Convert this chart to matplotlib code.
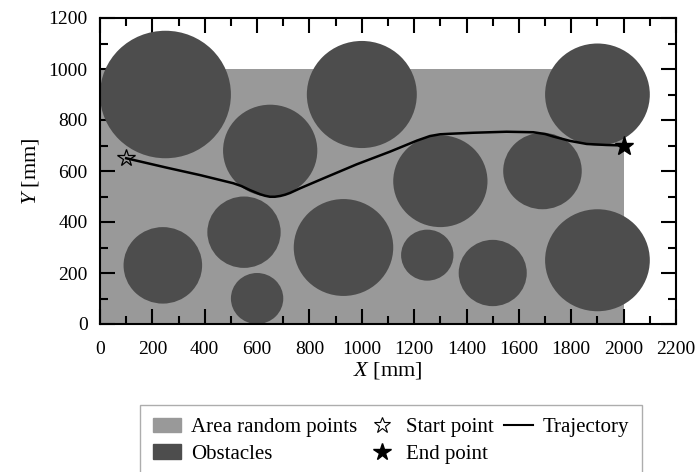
import matplotlib.pyplot as plt
from matplotlib.patches import Circle, Rectangle, Patch
from matplotlib.lines import Line2D

plt.rcParams['font.family'] = ['Liberation Serif', 'DejaVu Serif']
plt.rcParams['mathtext.fontset'] = 'custom'
plt.rcParams['mathtext.it'] = 'Liberation Serif:italic'
plt.rcParams['mathtext.rm'] = 'Liberation Serif'

# area where random points are sampled (x0, y0, width, height) in mm
area = (0, 0, 2000, 1000)

# obstacles: centers and radii in mm
obs_x = [250, 650, 1000, 1900, 1300, 1690, 240, 550, 600, 930, 1250, 1500, 1900]
obs_y = [900, 680, 900, 900, 560, 600, 230, 360, 100, 300, 270, 200, 250]
obs_r = [250, 180, 210, 200, 180, 150, 150, 140, 100, 190, 100, 130, 200]

# trajectory
traj_x = [100, 255, 382, 509, 540, 573, 611, 630, 649, 668, 688, 707, 726, 764, 853, 980,
          1108, 1210, 1260, 1299, 1337, 1426, 1553, 1655, 1700, 1732, 1795, 1859, 1935, 2000]
traj_y = [650, 613, 584, 552, 541, 525, 509, 503, 499, 499, 502, 507, 514, 532, 571, 626,
          676, 719, 737, 744, 746, 750, 754, 752, 745, 735, 718, 706, 702, 700]

start = (100, 650)
end = (2000, 700)

c_area = '#999999'
c_obs = '#4d4d4d'

fig = plt.figure(figsize=(6.99, 4.72), dpi=100)
ax = fig.add_axes([100 / 699, 1 - 324 / 472, 576 / 699, 306 / 472])

ax.add_patch(Rectangle((area[0], area[1]), area[2], area[3], color=c_area, lw=0, zorder=1))
for x, y, r in zip(obs_x, obs_y, obs_r):
    ax.add_patch(Circle((x, y), r, color=c_obs, lw=0, zorder=2))

ax.plot(traj_x, traj_y, color='black', lw=1.8, zorder=3, solid_joinstyle='round')
ax.plot(*start, marker='*', ms=13, mfc='none', mec='black', mew=0.9, ls='none', zorder=4)
ax.plot(*end, marker='*', ms=14, color='black', ls='none', zorder=4)

ax.set_xlim(0, 2200)
ax.set_ylim(0, 1200)
ax.set_xticks(range(0, 2201, 200))
ax.set_yticks(range(0, 1201, 200))
ax.set_xticks(range(0, 2201, 100), minor=True)
ax.set_yticks(range(0, 1201, 100), minor=True)
ax.tick_params(which='both', direction='in', top=True, right=True, width=1.5, labelsize=14)
ax.tick_params(which='major', length=11)
ax.tick_params(which='minor', length=6)
ax.tick_params(axis='x', pad=12)
ax.tick_params(axis='y', pad=9)
for s in ax.spines.values():
    s.set_linewidth(1.5)

ax.set_xlabel('$X$ [mm]', fontsize=16, labelpad=2)
ax.set_ylabel('$Y$ [mm]', fontsize=16, labelpad=5)

handles = [
    Patch(color=c_area, label='Area random points'),
    Patch(color=c_obs, label='Obstacles'),
    Line2D([], [], marker='*', ms=12, mfc='none', mec='black', mew=0.8, ls='none', label='Start point'),
    Line2D([], [], marker='*', ms=13, color='black', ls='none', label='End point'),
    Line2D([], [], color='black', lw=1.5, label='Trajectory'),
]
leg = fig.legend(handles=handles, ncol=3, loc='upper left', bbox_to_anchor=(140 / 699, 1 - 405 / 472),
                 fontsize=15, frameon=True, fancybox=False, edgecolor='#999999',
                 handlelength=1.35, handletextpad=0.5, columnspacing=0.5, labelspacing=0.35,
                 borderpad=0.6, borderaxespad=0)
leg.get_frame().set_linewidth(1.0)

fig.savefig('out.png', dpi=100)
